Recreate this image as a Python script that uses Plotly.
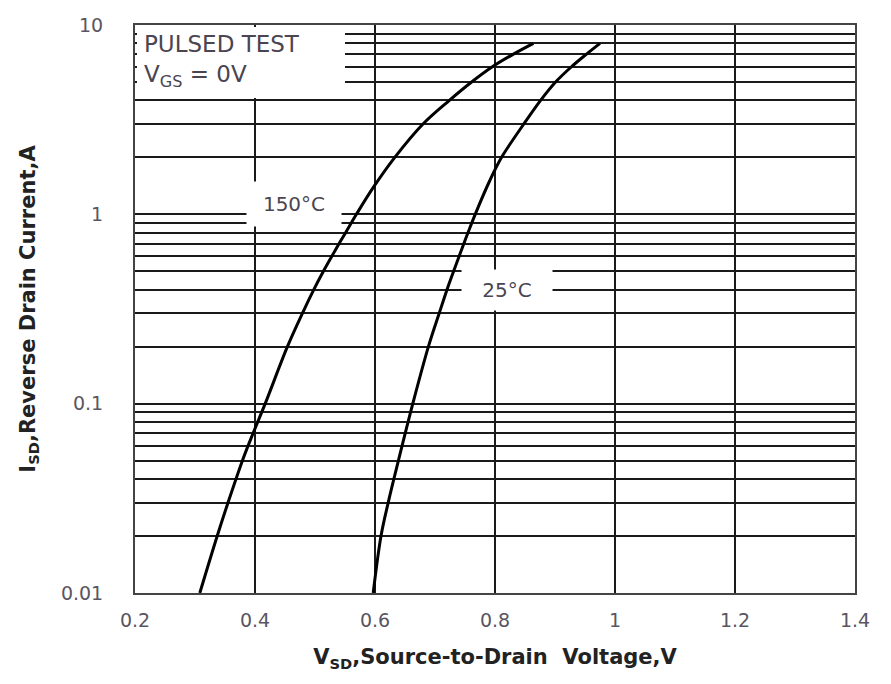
import plotly.graph_objects as go

# 25 °C curve
i_25 = [0.01, 0.02, 0.03, 0.05, 0.1, 0.2, 0.3, 0.4, 0.5, 0.7, 0.8, 1, 1.5, 2, 3, 4, 5, 6, 7, 8]
v_25 = [0.597, 0.610, 0.622, 0.639, 0.663, 0.689, 0.707, 0.720, 0.731, 0.748, 0.755, 0.767,
        0.791, 0.811, 0.848, 0.876, 0.901, 0.927, 0.952, 0.975]

# 150 °C curve
i_150 = [0.01, 0.02, 0.03, 0.05, 0.07, 0.1, 0.2, 0.3, 0.4, 0.5, 0.6, 0.7, 0.8, 1, 1.4, 2, 3, 4, 5, 6, 7, 8]
v_150 = [0.308, 0.337, 0.355, 0.379, 0.397, 0.417, 0.454, 0.479, 0.498, 0.514, 0.528, 0.540, 0.551,
         0.569, 0.598, 0.633, 0.680, 0.724, 0.761, 0.795, 0.830, 0.864]

x_ticks = [0.2, 0.4, 0.6, 0.8, 1.0, 1.2, 1.4]
x_labels = ["0.2", "0.4", "0.6", "0.8", "1", "1.2", "1.4"]
y_ticks = [0.01, 0.1, 1, 10]
y_labels = ["0.01", "0.1", "1", "10"]
minor_multipliers = [2, 3, 4, 5, 6, 7, 8, 9]

y_minor = [round(d * m, 6) for d in y_ticks[:-1] for m in minor_multipliers]

fig = go.Figure()
fig.add_trace(go.Scatter(x=v_150, y=i_150, mode="lines", line=dict(color="black", width=3, shape="spline", smoothing=1),
                         name="150°C", showlegend=False, hoverinfo="skip"))
fig.add_trace(go.Scatter(x=v_25, y=i_25, mode="lines", line=dict(color="black", width=3, shape="spline", smoothing=1),
                         name="25°C", showlegend=False, hoverinfo="skip"))

tick_font = dict(family="DejaVu Sans, Liberation Sans, sans-serif", size=19, color="#5a5560")
title_font = dict(family="DejaVu Sans, Liberation Sans, sans-serif", size=21, color="#222")

fig.update_xaxes(range=[0.2, 1.4], tickvals=x_ticks, ticktext=x_labels,
                 showgrid=True, gridcolor="#1a1a1a", gridwidth=2,
                 showline=True, linecolor="#444", linewidth=2, mirror=True,
                 ticks="", tickfont=tick_font, ticklabelstandoff=9, zeroline=False,
                 title=dict(text="<b>V<sub>SD</sub>,Source-to-Drain  Voltage,V</b>", font=title_font, standoff=20))
fig.update_yaxes(type="log", range=[-2, 1], tickvals=y_ticks, ticktext=y_labels,
                 showgrid=True, gridcolor="#1a1a1a", gridwidth=1.6,
                 minor=dict(tickvals=y_minor, showgrid=True, gridcolor="#1a1a1a", gridwidth=1.6, ticks=""),
                 showline=True, linecolor="#444", linewidth=2, mirror=True,
                 ticks="", tickfont=tick_font, ticklabelstandoff=26, zeroline=False,
                 title=dict(text="<b>I<sub>SD</sub>,Reverse Drain Current,A</b>", font=title_font, standoff=20))

# white box of the test-condition note
fig.add_shape(type="rect", xref="paper", yref="paper", x0=2 / 720, x1=210 / 720,
              y0=1 - 73 / 568, y1=1 - 2 / 568, fillcolor="white", line=dict(width=0), layer="above")

ann_font = dict(family="DejaVu Sans, Liberation Sans, sans-serif", size=23, color="#4a4550")
fig.add_annotation(xref="paper", yref="paper", x=7 / 720, y=1 - 36 / 568, xanchor="left", yanchor="middle",
                   text="PULSED TEST<br>V<sub>GS</sub> = 0V", align="left", showarrow=False, font=ann_font)
lab_font = dict(family="DejaVu Sans, Liberation Sans, sans-serif", size=20, color="#4a4550")
fig.add_annotation(x=0.465, y=0.053, yref="y", text="150°C", showarrow=False,
                   bgcolor="white", width=92, height=42, font=lab_font)
fig.add_annotation(x=0.82, y=-0.40, yref="y", text="25°C", showarrow=False,
                   bgcolor="white", width=88, height=38, font=lab_font)

fig.update_layout(width=891, height=684, margin=dict(l=135, r=36, t=25, b=91, autoexpand=False),
                  plot_bgcolor="white", paper_bgcolor="white", showlegend=False)
fig.write_html("out.html", post_script="document.body.style.margin='0';",
               config={"displayModeBar": False})
